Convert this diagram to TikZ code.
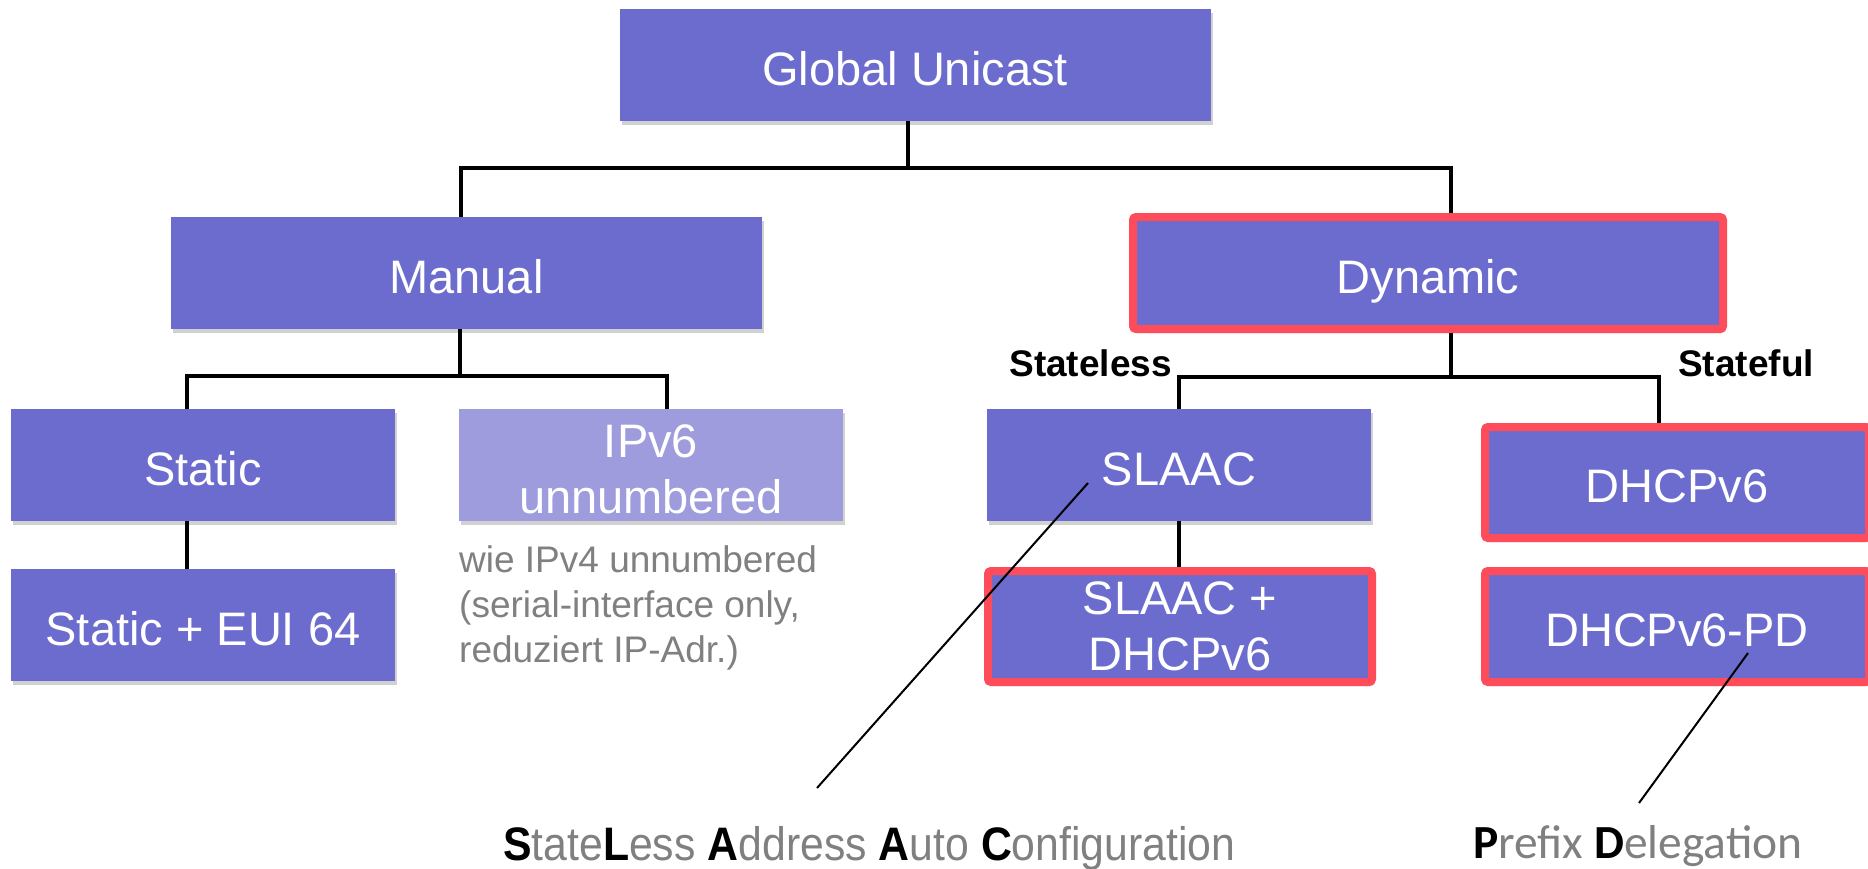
\documentclass[tikz,border=0pt]{standalone}
\usepackage{fontspec}
\setmainfont{Liberation Sans}
\newfontfamily\calib{Carlito}
\usetikzlibrary{shadows}
\definecolor{boxblue}{RGB}{107,108,206}
\definecolor{boxlight}{RGB}{158,156,221}
\definecolor{boxred}{RGB}{255,76,90}
\definecolor{notegray}{RGB}{128,128,128}
\begin{document}
\begin{tikzpicture}[x=1pt,y=-1pt,
  box/.style={rectangle, fill=boxblue, text=white, minimum width=384pt, minimum height=112pt,
    inner sep=0pt, font=\fontsize{47}{56}\selectfont, align=center,
    drop shadow={shadow xshift=2pt, shadow yshift=-4pt, opacity=.18, fill=black}},
  one/.style={text height=40pt, text depth=0pt},
  widebox/.style={box, one, minimum width=591pt},
  redbox/.style={draw=boxred, line width=8pt, rounded corners=3pt},
  conn/.style={draw=black, line width=4pt},
  lead/.style={draw=black, line width=2pt},
  bold/.style={font=\fontsize{37}{44}\selectfont\bfseries, text=black, inner sep=0pt}]
\fill[white] (0,0) rectangle (1868,868);
\useasboundingbox (0,0) rectangle (1868,868);

\node[widebox] (G) at (915,65) {Global Unicast};
\node[widebox] (M) at (466.5,273) {Manual};
\node[widebox, redbox, minimum width=590pt] (D) at (1428,273) {Dynamic};

\node[box, one] (S) at (203,465) {Static};
\node[box, fill=boxlight] (U) at (651,465) {\rule{0pt}{41pt}IPv6\\unnumbered};
\node[box, one] (E) at (203,625) {Static + EUI 64};

\node[box, one] (SL) at (1179,465) {SLAAC};
\node[box, redbox, minimum height=111pt] (SP) at (1180,626.5) {SLAAC +\\DHCPv6};
\node[box, one, redbox, minimum height=111pt] (DH) at (1677,482.5) {DHCPv6};
\node[box, one, redbox, minimum height=111pt] (PD) at (1677,626.5) {DHCPv6-PD};

% connectors
\draw[conn] ([xshift=-7pt]G.south) -- ++(0,47) coordinate (gbar);
\draw[conn] ([xshift=-6pt]M.north) -- ([xshift=-6pt]M.north |- gbar) -- ([xshift=23pt]D.north |- gbar) -- ([xshift=23pt]D.north);
\draw[conn] ([xshift=-7pt]M.south) -- ++(0,47) coordinate (mbar);
\draw[conn] ([xshift=-16pt]S.north) -- ([xshift=-16pt]S.north |- mbar) -- ([xshift=16pt]U.north |- mbar) -- ([xshift=16pt]U.north);
\draw[conn] ([xshift=23pt]D.south) -- ++(0,44) coordinate (dbar);
\draw[conn] (SL.north) -- (SL.north |- dbar) -- ([xshift=-18pt]DH.north |- dbar) -- ([xshift=-18pt]DH.north);
\draw[conn] ([xshift=-16pt]S.south) -- ([xshift=-16pt]S.south |- E.north);
\draw[conn] (SL.south) -- (SL.south |- SP.north);

% labels
\node[bold, anchor=base east] (stl) at (1172,376) {Stateless};
\node[bold, anchor=base west] (stf) at (1678,376) {Stateful};

\node[anchor=north west, align=left, inner sep=0pt, text=notegray,
  font=\fontsize{37}{45}\selectfont] (note) at (459,545)
  {wie IPv4 unnumbered\\(serial-interface only,\\reduziert IP-Adr.)};

\node[anchor=base west, inner sep=0pt, text=notegray, font=\fontsize{47}{52}\selectfont] (slaacdef) at (503,860)
  {\scalebox{0.91}[1]{{\color{black}\bfseries S}tate{\color{black}\bfseries L}ess {\color{black}\bfseries A}ddress {\color{black}\bfseries A}uto {\color{black}\bfseries C}onfiguration}};
\node[anchor=base west, inner sep=0pt, text=notegray, font=\calib\fontsize{47.5}{52}\selectfont] (pddef) at (1473,858)
  {{\color{black}\bfseries P}refix {\color{black}\bfseries D}elegation};

% leader lines
\coordinate (l1a) at (1088,483);
\coordinate (l1b) at (817,788);
\coordinate (l2a) at (1748,653);
\coordinate (l2b) at (1639,803);
\draw[lead] (l1a) -- (l1b);
\draw[lead] (l2a) -- (l2b);
\end{tikzpicture}
\end{document}
